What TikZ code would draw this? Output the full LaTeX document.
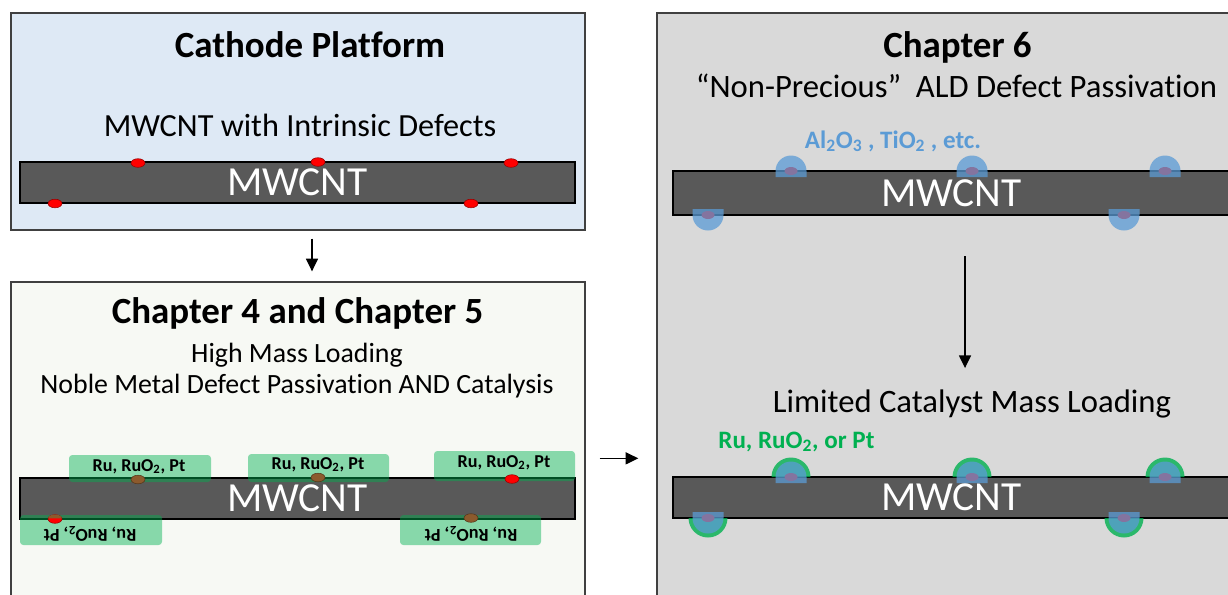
\documentclass[tikz,border=0pt]{standalone}
\usepackage{fontspec}
\setmainfont{Carlito}[Ligatures={NoCommon,NoRare,NoContextual}]
\usetikzlibrary{calc,fit,arrows.meta}

\definecolor{panelline}{RGB}{64,64,64}
\definecolor{platformblue}{RGB}{222,233,245}
\definecolor{catpanel}{RGB}{247,249,244}
\definecolor{aldpanel}{RGB}{217,217,217}
\definecolor{cntgray}{RGB}{89,89,89}
\definecolor{defectred}{RGB}{255,0,0}
\definecolor{defectedge}{RGB}{150,0,0}
\definecolor{noblebrown}{RGB}{140,90,45}
\definecolor{aldblue}{RGB}{91,155,213}
\definecolor{noblegreen}{RGB}{0,176,80}

% ALD cap over a defect: x, y on the tube edge, outward sign (-1 up, +1 down)
\newcommand\aldcap[3]{%
  \fill[aldblue, fill opacity=0.75]
    (#1-15.5,{#2-6*(#3)}) -- (#1-15.5,#2)
    arc[start angle=180, end angle={180-180*(#3)}, radius=15.5]
    -- (#1+15.5,{#2-6*(#3)}) -- cycle;}
% noble-metal shell around an ALD cap
\newcommand\nobleshell[3]{%
  \fill[noblegreen, fill opacity=0.8]
    (#1-19.5,#2) arc[start angle=180, end angle={180-180*(#3)}, radius=19.5] -- cycle;}

\begin{document}
\begin{tikzpicture}[x=0.75pt, y=-0.75pt,
  panel/.style={draw=panelline, line width=1pt, inner sep=0pt},
  cnt/.style={draw=black, line width=1.5pt, fill=cntgray, inner sep=0pt,
    label={[cnttext]center:MWCNT}},
  cnttext/.style={text=white, inner sep=0pt, font=\fontsize{31}{31}\selectfont},
  heading/.style={font=\bfseries\fontsize{27.7}{32}\selectfont, inner sep=0pt, anchor=base},
  subhead/.style={font=\fontsize{24.5}{28}\selectfont, inner sep=0pt, anchor=base},
  padbox/.style={fill=noblegreen, fill opacity=0.45, rounded corners=2.5pt, inner sep=0pt},
  padtext/.style={font=\bfseries\fontsize{13.6}{15}\selectfont, inner sep=0pt, anchor=base},
  matlabel/.style={font=\bfseries\fontsize{18.8}{21}\selectfont, inner sep=0pt, anchor=base},
  defect/.style={fill=defectred, draw=defectedge, line width=0.4pt},
  nobledot/.style={fill=noblebrown, draw=noblebrown!60!black, line width=0.4pt},
  arr/.style={-{Triangle[length=9.5pt,width=9pt]}, line width=1pt}]

\useasboundingbox (0,0) rectangle (1228,594);
\clip (0,0) rectangle (1228,594);
\fill[white] (0,0) rectangle (1228,594);

% ---------- panels ----------
\node[panel, fill=platformblue, fit={(11,13) (585,230)}] (platform) {};
\node[panel, fill=catpanel, fit={(11,282) (585,620)}] (catalysis) {};
\node[panel, fill=aldpanel, fit={(657,13) (1240,620)}] (chapter6) {};

% ---------- cathode platform ----------
\node[heading] (platformTitle) at (310,57) {Cathode Platform};
\node[subhead, font=\fontsize{24.2}{28}\selectfont] (platformSub) at (300,136) {MWCNT with Intrinsic Defects};
\node[cnt, fit={(20,162) (575,203)}] (barA) {};
\foreach \px/\py in {138/163, 318/162, 511/163, 55/203.5, 471/203.5}
  \draw[defect] (\px,\py) ellipse[x radius=7, y radius=4.3];

% ---------- chapter 4 and 5 ----------
\node[heading] (catTitle) at (297.5,323) {Chapter 4 and Chapter 5};
\node[subhead, font=\fontsize{20.9}{24}\selectfont] (catSubA) at (297,362) {High Mass Loading};
\node[subhead, font=\fontsize{20.9}{24}\selectfont] (catSubB) at (297,393) {Noble Metal Defect Passivation AND Catalysis};
\node[cnt, fit={(20,478) (575,519)}] (barB) {};
\node[padbox, fit={(69,455) (211,482)}] (padA) {};
\node[padbox, fit={(248,454) (389,482)}] (padB) {};
\node[padbox, fit={(434,451) (575,481)}] (padC) {};
\node[padbox, fit={(20,515) (162,545)}] (padD) {};
\node[padbox, fit={(400,515) (541,545)}] (padE) {};
\node[padtext] (padAText) at (139,471) {Ru, RuO\textsubscript{2}, Pt};
\node[padtext] (padBText) at (318,469) {Ru, RuO\textsubscript{2}, Pt};
\node[padtext] (padCText) at (504,467) {Ru, RuO\textsubscript{2}, Pt};
\node[padtext, rotate=180] (padDText) at (90,529) {Ru, RuO\textsubscript{2}, Pt};
\node[padtext, rotate=180] (padEText) at (471,529) {Ru, RuO\textsubscript{2}, Pt};
\draw[nobledot] (138,479.5) ellipse[x radius=7, y radius=4.3];
\draw[nobledot] (318,477.5) ellipse[x radius=7, y radius=4.3];
\draw[defect] (512,479) ellipse[x radius=7, y radius=4.3];
\draw[defect] (55,519) ellipse[x radius=7, y radius=4.3];
\fill[noblebrown] (48.2,518.3) arc[start angle=180, end angle=360, x radius=6.8, y radius=3.8] -- cycle;
\draw[nobledot] (471,518) ellipse[x radius=7, y radius=4.3];

% ---------- chapter 6 ----------
\node[heading] (aldTitle) at (957.5,57) {Chapter 6};
\node[subhead] (aldSub) at (956.5,97) {“Non-Precious”\ \ ALD Defect Passivation};
\node[matlabel, text=aldblue] (aldLabel) at (893,148) {Al\textsubscript{2}O\textsubscript{3} , TiO\textsubscript{2} , etc.};
\node[cnt, fit={(673,171) (1230,215)}] (barC) {};
\foreach \px/\py/\s in {791/171/-1, 972/171/-1, 1165/171/-1, 708/215/1, 1124/215/1}{
  \fill[defectred] (\px,\py) ellipse[x radius=6.5, y radius=4];
  \aldcap{\px}{\py}{\s}
}

\node[subhead] (limited) at (972,412) {Limited Catalyst Mass Loading};
\node[matlabel, text=noblegreen] (nobleLabel) at (796.5,448) {Ru, RuO\textsubscript{2}, or Pt};
\node[cnt, fit={(673,477) (1230,518)}] (barD) {};
\foreach \px/\py/\s in {791/477/-1, 972/477/-1, 1165/477/-1, 708/518/1, 1124/518/1}{
  \nobleshell{\px}{\py}{\s}
  \fill[defectred] (\px,\py) ellipse[x radius=6.5, y radius=4];
  \aldcap{\px}{\py}{\s}
}

% ---------- flow ----------
\draw[arr] ($(platform.south)+(14,8)$) -- ($(catalysis.north)+(14,-10)$);
\draw[arr] ($(catalysis.north east)+(14,177)$) -- ($(chapter6.north west)+(-18,446)$);
\draw[arr] ($(barC.south)+(13.5,40)$) -- ($(limited.north)+(-7,-21)$);
\end{tikzpicture}
\end{document}
